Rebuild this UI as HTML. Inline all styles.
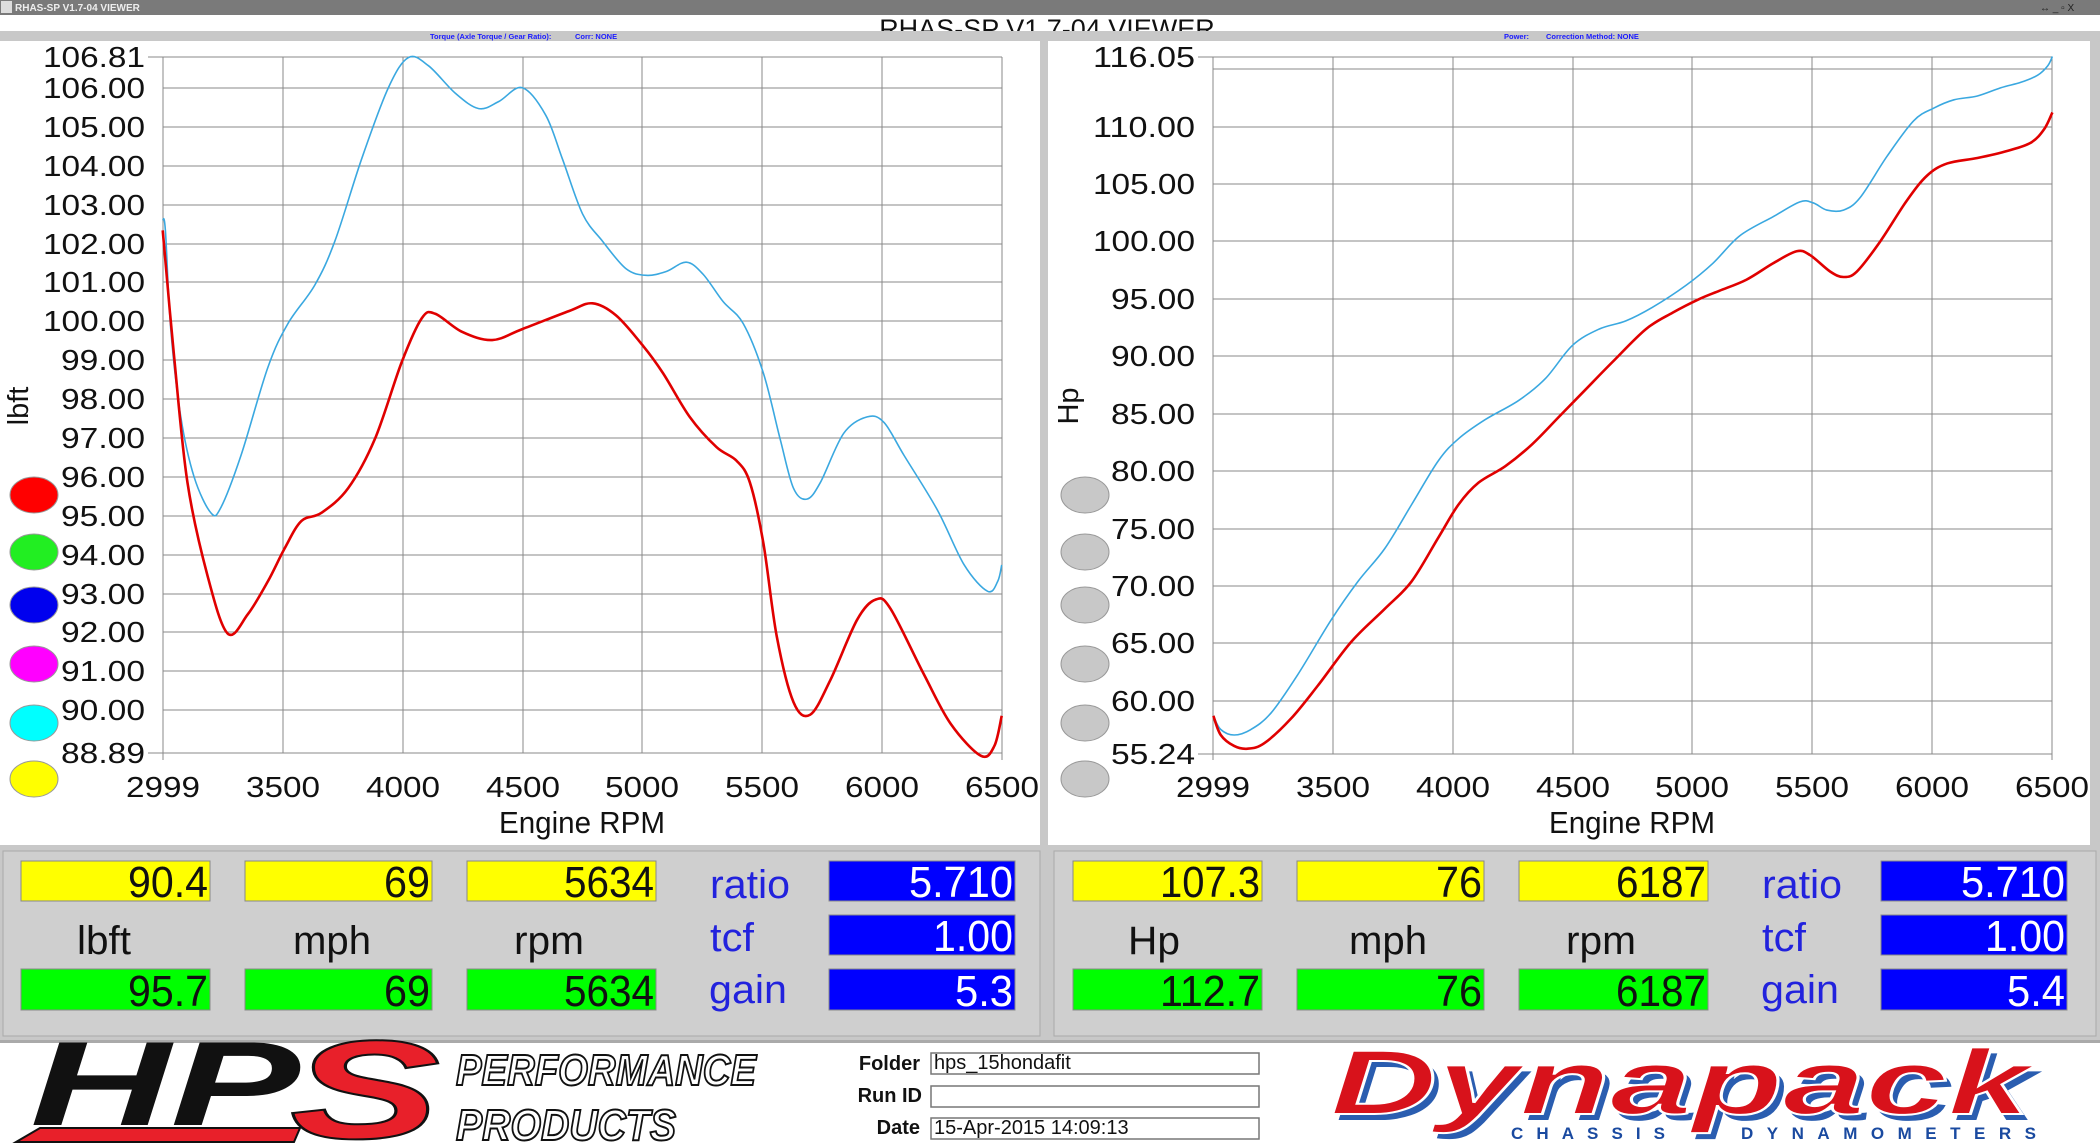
<!DOCTYPE html>
<html><head><meta charset="utf-8"><style>
html,body{margin:0;padding:0;background:#fff}
svg{display:block}
text{font-family:"Liberation Sans",sans-serif}
</style></head><body>
<svg width="2100" height="1147" viewBox="0 0 2100 1147" xmlns="http://www.w3.org/2000/svg">
<rect x="0" y="0" width="2100" height="1147" fill="#c8c8c8"/>
<rect x="0" y="0" width="2100" height="15" fill="#7a7a7a"/>
<rect x="1" y="1" width="11" height="12" fill="#ddd"/>
<text x="15" y="11" font-size="10" font-weight="bold" fill="#eee">RHAS-SP V1.7-04  VIEWER</text>
<text x="2040" y="11" font-size="10" fill="#222">↔  _ ▫ X</text>
<rect x="0" y="15" width="2100" height="16" fill="#fff"/>
<text x="1047" y="38" font-size="27" fill="#111" text-anchor="middle">RHAS-SP V1.7-04  VIEWER</text>
<rect x="0" y="31" width="2100" height="10" fill="#c8c8c8"/>
<text x="430" y="39" font-size="7.5" font-weight="bold" fill="#1a1aff">Torque (Axle Torque / Gear Ratio):</text>
<text x="575" y="39" font-size="7.5" font-weight="bold" fill="#1a1aff">Corr: NONE</text>
<text x="1504" y="39" font-size="7.5" font-weight="bold" fill="#1a1aff">Power:</text>
<text x="1546" y="39" font-size="7.5" font-weight="bold" fill="#1a1aff">Correction Method: NONE</text>

<rect x="0" y="41" width="1040" height="804" fill="#fff"/>
<g stroke="#888" stroke-width="1">
<line x1="163" y1="57" x2="1002" y2="57"/>
<line x1="163" y1="88" x2="1002" y2="88"/><line x1="163" y1="127" x2="1002" y2="127"/><line x1="163" y1="166" x2="1002" y2="166"/><line x1="163" y1="205" x2="1002" y2="205"/><line x1="163" y1="244" x2="1002" y2="244"/><line x1="163" y1="282" x2="1002" y2="282"/><line x1="163" y1="321" x2="1002" y2="321"/><line x1="163" y1="360" x2="1002" y2="360"/><line x1="163" y1="399" x2="1002" y2="399"/><line x1="163" y1="438" x2="1002" y2="438"/><line x1="163" y1="477" x2="1002" y2="477"/><line x1="163" y1="516" x2="1002" y2="516"/><line x1="163" y1="555" x2="1002" y2="555"/><line x1="163" y1="594" x2="1002" y2="594"/><line x1="163" y1="632" x2="1002" y2="632"/><line x1="163" y1="671" x2="1002" y2="671"/><line x1="163" y1="710" x2="1002" y2="710"/><line x1="163" y1="753" x2="1002" y2="753"/>
<line x1="163" y1="57" x2="163" y2="760"/><line x1="283" y1="57" x2="283" y2="753"/><line x1="403" y1="57" x2="403" y2="753"/><line x1="523" y1="57" x2="523" y2="753"/><line x1="642" y1="57" x2="642" y2="753"/><line x1="762" y1="57" x2="762" y2="753"/><line x1="882" y1="57" x2="882" y2="753"/><line x1="1002" y1="57" x2="1002" y2="760"/>
<line x1="148" y1="57" x2="163" y2="57"/><line x1="148" y1="753" x2="163" y2="753"/>
</g>
<g font-size="29" fill="#111" text-anchor="end">
<text x="145" y="67" textLength="102" lengthAdjust="spacingAndGlyphs">106.81</text>
<text x="145" y="98" textLength="102" lengthAdjust="spacingAndGlyphs">106.00</text>
<text x="145" y="137" textLength="102" lengthAdjust="spacingAndGlyphs">105.00</text>
<text x="145" y="176" textLength="102" lengthAdjust="spacingAndGlyphs">104.00</text>
<text x="145" y="215" textLength="102" lengthAdjust="spacingAndGlyphs">103.00</text>
<text x="145" y="254" textLength="102" lengthAdjust="spacingAndGlyphs">102.00</text>
<text x="145" y="292" textLength="102" lengthAdjust="spacingAndGlyphs">101.00</text>
<text x="145" y="331" textLength="102" lengthAdjust="spacingAndGlyphs">100.00</text>
<text x="145" y="370" textLength="84" lengthAdjust="spacingAndGlyphs">99.00</text>
<text x="145" y="409" textLength="84" lengthAdjust="spacingAndGlyphs">98.00</text>
<text x="145" y="448" textLength="84" lengthAdjust="spacingAndGlyphs">97.00</text>
<text x="145" y="487" textLength="84" lengthAdjust="spacingAndGlyphs">96.00</text>
<text x="145" y="526" textLength="84" lengthAdjust="spacingAndGlyphs">95.00</text>
<text x="145" y="565" textLength="84" lengthAdjust="spacingAndGlyphs">94.00</text>
<text x="145" y="604" textLength="84" lengthAdjust="spacingAndGlyphs">93.00</text>
<text x="145" y="642" textLength="84" lengthAdjust="spacingAndGlyphs">92.00</text>
<text x="145" y="681" textLength="84" lengthAdjust="spacingAndGlyphs">91.00</text>
<text x="145" y="720" textLength="84" lengthAdjust="spacingAndGlyphs">90.00</text>
<text x="145" y="763" textLength="84" lengthAdjust="spacingAndGlyphs">88.89</text>
</g>
<g font-size="29" fill="#111" text-anchor="middle">
<text x="163" y="797" textLength="74" lengthAdjust="spacingAndGlyphs">2999</text>
<text x="283" y="797" textLength="74" lengthAdjust="spacingAndGlyphs">3500</text>
<text x="403" y="797" textLength="74" lengthAdjust="spacingAndGlyphs">4000</text>
<text x="523" y="797" textLength="74" lengthAdjust="spacingAndGlyphs">4500</text>
<text x="642" y="797" textLength="74" lengthAdjust="spacingAndGlyphs">5000</text>
<text x="762" y="797" textLength="74" lengthAdjust="spacingAndGlyphs">5500</text>
<text x="882" y="797" textLength="74" lengthAdjust="spacingAndGlyphs">6000</text>
<text x="1002" y="797" textLength="74" lengthAdjust="spacingAndGlyphs">6500</text>
<text x="582" y="833" font-size="31" textLength="166" lengthAdjust="spacingAndGlyphs">Engine RPM</text>
</g>
<text transform="translate(28,406) rotate(-90)" font-size="29" text-anchor="middle" fill="#111">lbft</text>
<g stroke="#999" stroke-width="1">
<ellipse cx="34" cy="495" rx="24" ry="18" fill="#ff0000"/>
<ellipse cx="34" cy="552" rx="24" ry="18" fill="#22ee22"/>
<ellipse cx="34" cy="605" rx="24" ry="18" fill="#0000ee"/>
<ellipse cx="34" cy="664" rx="24" ry="18" fill="#ff00ff"/>
<ellipse cx="34" cy="723" rx="24" ry="18" fill="#00ffff"/>
<ellipse cx="34" cy="779" rx="24" ry="18" fill="#ffff00"/>
</g>
<g transform="scale(0.6696,0.5485)" fill="none" stroke-linejoin="round">
<polyline class="sm" vector-effect="non-scaling-stroke" stroke="#3aa8e0" stroke-width="1.6" points="243,400 247,420 255,600 270,760 290,870 315,935 330,925 360,830 400,670 430,590 470,520 500,440 540,290 580,160 610,105 640,120 680,170 715,198 745,185 780,160 815,210 840,290 870,390 900,440 935,490 965,502 995,495 1025,478 1050,500 1080,550 1110,590 1140,680 1165,800 1185,890 1205,910 1225,880 1260,790 1295,760 1320,770 1350,830 1400,930 1440,1030 1475,1078 1490,1060 1496,1030"/>
<polyline class="sm" vector-effect="non-scaling-stroke" stroke="#e00000" stroke-width="2.6" points="243,420 260,650 280,880 310,1050 340,1155 370,1120 400,1060 425,1000 450,950 480,935 520,890 560,800 600,660 630,580 650,572 690,605 735,620 780,600 850,567 885,553 920,575 960,630 990,680 1030,760 1070,815 1100,840 1120,880 1140,990 1160,1160 1185,1280 1210,1303 1240,1240 1280,1130 1308,1093 1330,1110 1380,1230 1420,1320 1465,1378 1485,1360 1496,1305"/>
</g>

<rect x="1048" y="41" width="1042" height="804" fill="#fff"/>
<g transform="translate(1050,0)">
<g stroke="#888" stroke-width="1">
<line x1="163" y1="57" x2="1002" y2="57"/><line x1="163" y1="69" x2="1002" y2="69"/>
<line x1="163" y1="127" x2="1002" y2="127"/><line x1="163" y1="184" x2="1002" y2="184"/><line x1="163" y1="241" x2="1002" y2="241"/><line x1="163" y1="299" x2="1002" y2="299"/><line x1="163" y1="356" x2="1002" y2="356"/><line x1="163" y1="414" x2="1002" y2="414"/><line x1="163" y1="471" x2="1002" y2="471"/><line x1="163" y1="529" x2="1002" y2="529"/><line x1="163" y1="586" x2="1002" y2="586"/><line x1="163" y1="643" x2="1002" y2="643"/><line x1="163" y1="701" x2="1002" y2="701"/><line x1="163" y1="754" x2="1002" y2="754"/>
<line x1="163" y1="57" x2="163" y2="760"/><line x1="283" y1="57" x2="283" y2="754"/><line x1="403" y1="57" x2="403" y2="754"/><line x1="523" y1="57" x2="523" y2="754"/><line x1="642" y1="57" x2="642" y2="754"/><line x1="762" y1="57" x2="762" y2="754"/><line x1="882" y1="57" x2="882" y2="754"/><line x1="1002" y1="57" x2="1002" y2="760"/>
<line x1="148" y1="57" x2="163" y2="57"/><line x1="148" y1="754" x2="163" y2="754"/>
</g>
<g font-size="29" fill="#111" text-anchor="end">
<text x="145" y="67" textLength="102" lengthAdjust="spacingAndGlyphs">116.05</text>
<text x="145" y="137" textLength="102" lengthAdjust="spacingAndGlyphs">110.00</text>
<text x="145" y="194" textLength="102" lengthAdjust="spacingAndGlyphs">105.00</text>
<text x="145" y="251" textLength="102" lengthAdjust="spacingAndGlyphs">100.00</text>
<text x="145" y="309" textLength="84" lengthAdjust="spacingAndGlyphs">95.00</text>
<text x="145" y="366" textLength="84" lengthAdjust="spacingAndGlyphs">90.00</text>
<text x="145" y="424" textLength="84" lengthAdjust="spacingAndGlyphs">85.00</text>
<text x="145" y="481" textLength="84" lengthAdjust="spacingAndGlyphs">80.00</text>
<text x="145" y="539" textLength="84" lengthAdjust="spacingAndGlyphs">75.00</text>
<text x="145" y="596" textLength="84" lengthAdjust="spacingAndGlyphs">70.00</text>
<text x="145" y="653" textLength="84" lengthAdjust="spacingAndGlyphs">65.00</text>
<text x="145" y="711" textLength="84" lengthAdjust="spacingAndGlyphs">60.00</text>
<text x="145" y="764" textLength="84" lengthAdjust="spacingAndGlyphs">55.24</text>
</g>
<g font-size="29" fill="#111" text-anchor="middle">
<text x="163" y="797" textLength="74" lengthAdjust="spacingAndGlyphs">2999</text>
<text x="283" y="797" textLength="74" lengthAdjust="spacingAndGlyphs">3500</text>
<text x="403" y="797" textLength="74" lengthAdjust="spacingAndGlyphs">4000</text>
<text x="523" y="797" textLength="74" lengthAdjust="spacingAndGlyphs">4500</text>
<text x="642" y="797" textLength="74" lengthAdjust="spacingAndGlyphs">5000</text>
<text x="762" y="797" textLength="74" lengthAdjust="spacingAndGlyphs">5500</text>
<text x="882" y="797" textLength="74" lengthAdjust="spacingAndGlyphs">6000</text>
<text x="1002" y="797" textLength="74" lengthAdjust="spacingAndGlyphs">6500</text>
<text x="582" y="833" font-size="31" textLength="166" lengthAdjust="spacingAndGlyphs">Engine RPM</text>
</g>
<text transform="translate(28,406) rotate(-90)" font-size="29" text-anchor="middle" fill="#111">Hp</text>
<g stroke="#999" stroke-width="1" fill="#c8c8c8">
<ellipse cx="35" cy="495" rx="24" ry="18"/><ellipse cx="35" cy="552" rx="24" ry="18"/><ellipse cx="35" cy="605" rx="24" ry="18"/><ellipse cx="35" cy="664" rx="24" ry="18"/><ellipse cx="35" cy="723" rx="24" ry="18"/><ellipse cx="35" cy="779" rx="24" ry="18"/>
</g>
<g transform="scale(0.6696,0.5485)" fill="none" stroke-linejoin="round">
<polyline class="sm" vector-effect="non-scaling-stroke" stroke="#3aa8e0" stroke-width="1.6" points="244,1305 255,1330 275,1340 300,1330 330,1300 370,1230 420,1130 460,1060 500,1000 540,920 580,840 610,800 650,765 700,730 740,690 780,630 820,600 860,585 900,560 950,520 990,480 1030,430 1080,395 1120,368 1140,370 1160,383 1185,383 1210,360 1250,285 1290,220 1320,197 1350,182 1385,175 1420,160 1450,150 1475,137 1490,120 1497,103"/>
<polyline class="sm" vector-effect="non-scaling-stroke" stroke="#e00000" stroke-width="2.6" points="244,1305 255,1340 275,1360 295,1365 320,1355 360,1310 400,1250 450,1170 500,1110 540,1060 580,980 610,920 640,880 680,850 720,810 760,760 800,710 840,660 890,600 930,570 970,545 1000,530 1040,510 1080,480 1115,458 1135,465 1165,495 1185,505 1205,495 1240,440 1280,365 1310,320 1340,298 1385,288 1430,275 1465,260 1485,235 1497,205"/>
</g>
</g>

<g>
<rect x="3" y="851" width="1037" height="185" fill="#cfcfcf" stroke="#aaa"/>
<rect x="1054" y="851" width="1042" height="185" fill="#cfcfcf" stroke="#aaa"/>
</g>
<g id="rp">
<g stroke="#888" stroke-width="1">
<rect x="21" y="861" width="189" height="40" fill="#ffff00"/>
<rect x="245" y="861" width="187" height="40" fill="#ffff00"/>
<rect x="467" y="861" width="189" height="40" fill="#ffff00"/>
<rect x="21" y="969" width="189" height="41" fill="#00ff00"/>
<rect x="245" y="969" width="187" height="41" fill="#00ff00"/>
<rect x="467" y="969" width="189" height="41" fill="#00ff00"/>
<rect x="829" y="861" width="186" height="40" fill="#0000ff"/>
<rect x="829" y="915" width="186" height="40" fill="#0000ff"/>
<rect x="829" y="969" width="186" height="41" fill="#0000ff"/>
</g>
</g>
<g font-size="44" text-anchor="end" fill="#111" lengthAdjust="spacingAndGlyphs">
<text x="208" y="897" textLength="80" lengthAdjust="spacingAndGlyphs">90.4</text><text x="430" y="897" textLength="46" lengthAdjust="spacingAndGlyphs">69</text><text x="654" y="897" textLength="90" lengthAdjust="spacingAndGlyphs">5634</text>
<text x="208" y="1006" textLength="80" lengthAdjust="spacingAndGlyphs">95.7</text><text x="430" y="1006" textLength="46" lengthAdjust="spacingAndGlyphs">69</text><text x="654" y="1006" textLength="90" lengthAdjust="spacingAndGlyphs">5634</text>
<text x="1013" y="897" fill="#fff" textLength="104" lengthAdjust="spacingAndGlyphs">5.710</text><text x="1013" y="951" fill="#fff" textLength="80" lengthAdjust="spacingAndGlyphs">1.00</text><text x="1013" y="1006" fill="#fff" textLength="58" lengthAdjust="spacingAndGlyphs">5.3</text>
</g>
<g font-size="40" text-anchor="middle" fill="#111">
<text x="104" y="954" textLength="54" lengthAdjust="spacingAndGlyphs">lbft</text><text x="332" y="954" textLength="78" lengthAdjust="spacingAndGlyphs">mph</text><text x="549" y="954" textLength="70" lengthAdjust="spacingAndGlyphs">rpm</text>
</g>
<g font-size="40" text-anchor="middle" fill="#2222dd">
<text x="750" y="898" textLength="80" lengthAdjust="spacingAndGlyphs">ratio</text><text x="732" y="951" textLength="44" lengthAdjust="spacingAndGlyphs">tcf</text><text x="748" y="1003" textLength="78" lengthAdjust="spacingAndGlyphs">gain</text>
</g>
<use href="#rp" x="1052"/>
<g font-size="44" text-anchor="end" fill="#111">
<text x="1260" y="897" textLength="100" lengthAdjust="spacingAndGlyphs">107.3</text><text x="1482" y="897" textLength="46" lengthAdjust="spacingAndGlyphs">76</text><text x="1706" y="897" textLength="90" lengthAdjust="spacingAndGlyphs">6187</text>
<text x="1260" y="1006" textLength="100" lengthAdjust="spacingAndGlyphs">112.7</text><text x="1482" y="1006" textLength="46" lengthAdjust="spacingAndGlyphs">76</text><text x="1706" y="1006" textLength="90" lengthAdjust="spacingAndGlyphs">6187</text>
<text x="2065" y="897" fill="#fff" textLength="104" lengthAdjust="spacingAndGlyphs">5.710</text><text x="2065" y="951" fill="#fff" textLength="80" lengthAdjust="spacingAndGlyphs">1.00</text><text x="2065" y="1006" fill="#fff" textLength="58" lengthAdjust="spacingAndGlyphs">5.4</text>
</g>
<g font-size="40" text-anchor="middle" fill="#111">
<text x="1154" y="954" textLength="52" lengthAdjust="spacingAndGlyphs">Hp</text><text x="1388" y="954" textLength="78" lengthAdjust="spacingAndGlyphs">mph</text><text x="1601" y="954" textLength="70" lengthAdjust="spacingAndGlyphs">rpm</text>
</g>
<g font-size="40" text-anchor="middle" fill="#2222dd">
<text x="1802" y="898" textLength="80" lengthAdjust="spacingAndGlyphs">ratio</text><text x="1784" y="951" textLength="44" lengthAdjust="spacingAndGlyphs">tcf</text><text x="1800" y="1003" textLength="78" lengthAdjust="spacingAndGlyphs">gain</text>
</g>

<rect x="0" y="1042" width="2100" height="105" fill="#fff"/>
<rect x="0" y="1040" width="2100" height="3" fill="#aaa"/>
<polygon points="40,1128 300,1128 294,1142 16,1142" fill="#e8202a" stroke="#111" stroke-width="2"/>
<text x="30" y="1125" font-size="120" font-weight="bold" font-style="italic" fill="#111" textLength="270" lengthAdjust="spacingAndGlyphs">HP</text>
<text x="290" y="1138" font-size="140" font-weight="bold" font-style="italic" fill="#e8202a" stroke="#111" stroke-width="2" textLength="150" lengthAdjust="spacingAndGlyphs">S</text>
<text x="456" y="1085" font-size="44" font-weight="bold" font-style="italic" fill="#fff" stroke="#111" stroke-width="2" textLength="300" lengthAdjust="spacingAndGlyphs">PERFORMANCE</text>
<text x="456" y="1140" font-size="44" font-weight="bold" font-style="italic" fill="#fff" stroke="#111" stroke-width="2" textLength="220" lengthAdjust="spacingAndGlyphs">PRODUCTS</text>
<g font-size="20" font-weight="bold" fill="#111" text-anchor="end">
<text x="920" y="1070">Folder</text><text x="922" y="1102">Run ID</text><text x="920" y="1134">Date</text>
</g>
<g fill="#fff" stroke="#777" stroke-width="1.5">
<rect x="931" y="1053" width="328" height="21"/><rect x="931" y="1086" width="328" height="21"/><rect x="931" y="1118" width="328" height="21"/>
</g>
<g font-size="20" fill="#111">
<text x="934" y="1069">hps_15hondafit</text><text x="934" y="1134">15-Apr-2015  14:09:13</text>
</g>
<text x="1336" y="1120" font-size="92" font-weight="bold" font-style="italic" fill="#2a5db0" textLength="700" lengthAdjust="spacingAndGlyphs">Dynapack</text>
<text x="1330" y="1114" font-size="92" font-weight="bold" font-style="italic" fill="#d8121b" stroke="#fff" stroke-width="2" textLength="700" lengthAdjust="spacingAndGlyphs">Dynapack</text>
<text x="1511" y="1139" font-size="17" font-weight="bold" fill="#1a4aa0" textLength="154" lengthAdjust="spacing">CHASSIS</text>
<text x="1741" y="1139" font-size="17" font-weight="bold" fill="#1a4aa0" textLength="295" lengthAdjust="spacing">DYNAMOMETERS</text>
</svg>
<script>
document.querySelectorAll('polyline.sm').forEach(function(pl){
  var p=pl.getAttribute('points').trim().split(/\s+/).map(function(s){return s.split(',').map(Number);});
  var d='M'+p[0][0]+','+p[0][1];
  for(var i=0;i<p.length-1;i++){
    var p0=p[i-1]||p[i],p1=p[i],p2=p[i+1],p3=p[i+2]||p2;
    var c1x=p1[0]+(p2[0]-p0[0])/6,c1y=p1[1]+(p2[1]-p0[1])/6;
    var c2x=p2[0]-(p3[0]-p1[0])/6,c2y=p2[1]-(p3[1]-p1[1])/6;
    d+=' C'+c1x.toFixed(1)+','+c1y.toFixed(1)+' '+c2x.toFixed(1)+','+c2y.toFixed(1)+' '+p2[0]+','+p2[1];
  }
  var path=document.createElementNS('http://www.w3.org/2000/svg','path');
  ['stroke','stroke-width','vector-effect'].forEach(function(a){path.setAttribute(a,pl.getAttribute(a));});
  path.setAttribute('d',d);path.setAttribute('fill','none');
  pl.parentNode.replaceChild(path,pl);
});
</script>
</body></html>
